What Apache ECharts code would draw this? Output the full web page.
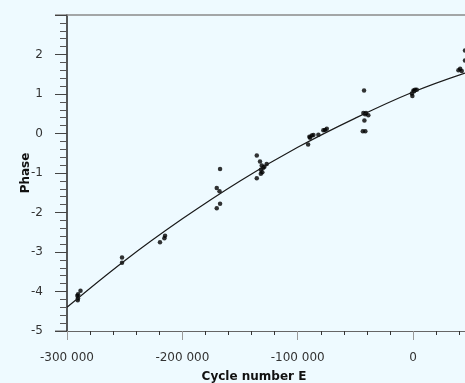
<!DOCTYPE html>
<html>
<head>
<meta charset="utf-8">
<script src="https://cdn.jsdelivr.net/npm/echarts@6/dist/echarts.min.js"></script>
<style>
  html, body { margin: 0; padding: 0; background: #eefaff; }
  #chart { width: 465px; height: 383px; }
</style>
</head>
<body>
<div id="chart"></div>
<script>
// Observed phases [cycle number E, phase], grouped by observing epoch
const groupA = [[-290400, -4.07], [-288300, -3.98], [-290500, -4.17], [-290700, -4.22], [-291000, -4.11]];
const groupB = [[-252300, -3.14], [-252300, -3.27]];
const groupC = [[-215000, -2.59], [-215600, -2.65], [-219400, -2.75]];
const groupD = [[-167300, -0.90], [-170200, -1.38], [-167800, -1.46], [-167300, -1.78], [-170200, -1.89]];
const groupE = [[-135500, -0.56], [-132700, -0.71], [-131200, -0.81], [-129800, -0.87], [-132000, -0.92],
                [-130700, -0.98], [-132000, -1.02], [-135500, -1.13], [-126900, -0.77], [-128900, -0.84]];
const groupF = [[-91000, -0.28], [-89900, -0.08], [-87800, -0.05], [-86400, -0.04], [-89300, -0.11],
                [-82100, -0.03], [-76300, 0.09], [-74800, 0.12], [-77800, 0.08]];
const groupG = [[-42500, 1.09], [-43100, 0.52], [-40800, 0.52], [-38800, 0.46], [-42200, 0.33],
                [-43600, 0.06], [-41400, 0.06], [-41600, 0.49]];
const groupH = [[300, 1.09], [-1100, 1.01], [-600, 0.95], [1700, 1.11], [3200, 1.11], [900, 1.07]];
const groupI = [[40800, 1.64], [42200, 1.58], [39300, 1.60], [45000, 2.10], [45000, 1.85]];

// Fitted ephemeris curve, sampled along E
const curveE     = [-300000, -250000, -200000, -150000, -100000, -50000, 0, 45000];
const curvePhase = [-4.40, -3.22, -2.16, -1.20, -0.35, 0.39, 1.05, 1.53];

// Axis ticks
const xMajorTicks = [-300000, -200000, -100000, 0];
const xMinorStep = 20000;
const xRange = [-300000, 45000];
const yRange = [-5, 3];

const xMinorTicks = [];
for (let v = xRange[0]; v <= xRange[1]; v += xMinorStep) {
  if (xMajorTicks.indexOf(v) < 0) xMinorTicks.push(v);
}

const observations = [].concat(groupA, groupB, groupC, groupD, groupE, groupF, groupG, groupH, groupI);
const curve = curveE.map((e, i) => [e, curvePhase[i]]);

function fmtThousands(v) {
  const s = String(Math.abs(v)).replace(/\B(?=(\d{3})+(?!\d))/g, ' ');
  return (v < 0 ? '-' : '') + s;
}

const FONT = 'DejaVu Sans';
const GRID_LEFT = 67;
const FRAME_OVERHANG = 12;   // top and bottom frame lines run a bit past the y axis
const chart = echarts.init(document.getElementById('chart'), null, { renderer: 'canvas' });

chart.setOption({
  backgroundColor: '#eefaff',
  animation: false,
  grid: { left: GRID_LEFT, right: 0, top: 15, bottom: 52, containLabel: false, outerBoundsMode: 'none' },
  xAxis: [
    {
      type: 'value', position: 'bottom', min: xRange[0], max: xRange[1],
      axisLine: { show: true, onZero: false, lineStyle: { color: '#666', width: 1 } },
      axisTick: { show: true, customValues: xMajorTicks, length: 9, lineStyle: { color: '#9a9a9a', width: 1 } },
      axisLabel: {
        customValues: xMajorTicks, margin: 21, color: '#333', fontFamily: FONT, fontSize: 12,
        formatter: fmtThousands
      },
      splitLine: { show: false },
      name: 'Cycle number E', nameLocation: 'middle', nameGap: 40, nameMoveOverlap: false,
      nameTextStyle: { color: '#111', fontFamily: FONT, fontSize: 12, fontWeight: 'bold', padding: [0, 24, 0, 0] }
    },
    {
      type: 'value', position: 'bottom', min: xRange[0], max: xRange[1],
      axisLine: { show: false, onZero: false },
      axisTick: { show: true, customValues: xMinorTicks, length: 4, lineStyle: { color: '#333', width: 1 } },
      axisLabel: { show: false },
      splitLine: { show: false }
    },
    {
      type: 'value', position: 'top', min: xRange[0], max: xRange[1],
      axisLine: { show: true, onZero: false, lineStyle: { color: '#8a8a8a', width: 1.5 } },
      axisTick: { show: false }, axisLabel: { show: false }, splitLine: { show: false }
    }
  ],
  yAxis: {
    type: 'value', min: yRange[0], max: yRange[1], interval: 1,
    axisLine: { show: true, onZero: false, lineStyle: { color: '#222', width: 1.5 } },
    axisTick: { show: true, length: 12, lineStyle: { color: '#444', width: 1 } },
    minorTick: { show: true, splitNumber: 5, length: 7, lineStyle: { color: '#555', width: 1 } },
    axisLabel: {
      margin: 24, color: '#333', fontFamily: FONT, fontSize: 12,
      formatter: v => (v === yRange[1] ? '' : String(v))
    },
    splitLine: { show: false },
    minorSplitLine: { show: false },
    name: 'Phase', nameLocation: 'middle', nameGap: 35, nameRotate: 90, nameMoveOverlap: false,
    nameTextStyle: { color: '#111', fontFamily: FONT, fontSize: 12, fontWeight: 'bold' }
  },
  series: [
    {
      type: 'line', data: curve, smooth: 0.4, showSymbol: false, xAxisIndex: 0,
      lineStyle: { color: '#1a1a1a', width: 1.2 }, silent: true
    },
    {
      type: 'scatter', data: observations, symbolSize: 4.5, xAxisIndex: 0,
      itemStyle: { color: '#000' }
    }
  ]
});

// Extend the frame lines a little to the left of the y axis
const topY = chart.convertToPixel({ yAxisIndex: 0 }, yRange[1]);
const botY = chart.convertToPixel({ yAxisIndex: 0 }, yRange[0]);
const leftX = chart.convertToPixel({ xAxisIndex: 0 }, xRange[0]);
chart.setOption({
  graphic: [
    { type: 'line', shape: { x1: leftX - FRAME_OVERHANG, y1: topY, x2: leftX, y2: topY },
      style: { stroke: '#8a8a8a', lineWidth: 1.5 }, silent: true },
    { type: 'line', shape: { x1: leftX - FRAME_OVERHANG, y1: botY, x2: leftX, y2: botY },
      style: { stroke: '#666', lineWidth: 1 }, silent: true }
  ]
});
</script>
</body>
</html>
